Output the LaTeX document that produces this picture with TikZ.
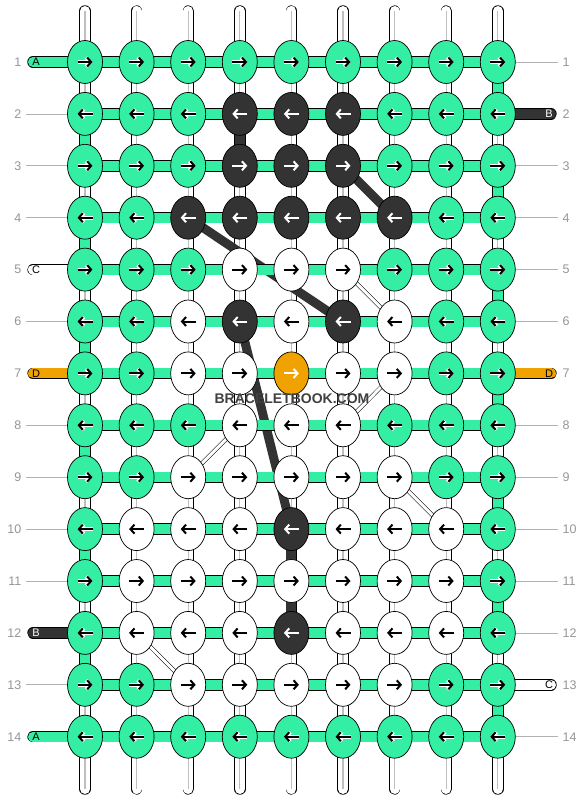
\documentclass[tikz,border=0pt]{standalone}
\usepackage{fontspec}
\setmainfont{Liberation Sans}
\usetikzlibrary{shapes.geometric,arrows.meta}
\definecolor{knotgreen}{RGB}{51,238,163}
\definecolor{knotdark}{RGB}{51,51,51}
\definecolor{knotorange}{RGB}{240,162,0}
\definecolor{rowgray}{RGB}{150,150,150}
\pgfdeclarelayer{strands}
\pgfdeclarelayer{diag}
\pgfdeclarelayer{bars}
\pgfsetlayers{strands,diag,bars,main}
\begin{document}
\begin{tikzpicture}[x=1pt,y=-1pt]
\tikzstyle{knot}=[draw, ellipse, line width=0.7pt, minimum width=35pt, minimum height=43pt, inner sep=0pt]
\tikzstyle{knot-g}=[knot, fill=knotgreen]
\tikzstyle{knot-d}=[knot, fill=knotdark]
\tikzstyle{knot-w}=[knot, fill=white]
\tikzstyle{knot-o}=[knot, fill=knotorange]
\tikzstyle{arrow}=[line width=2pt, -{Straight Barb[length=4pt,width=9pt]}]
\tikzstyle{arrow-g}=[arrow, black]
\tikzstyle{arrow-w}=[arrow, black]
\tikzstyle{arrow-d}=[arrow, white]
\tikzstyle{arrow-o}=[arrow, white]
\tikzstyle{halo}=[line width=3.6pt, -{Straight Barb[length=4pt,width=9pt]}]
\tikzstyle{halo-g}=[halo, white]
\tikzstyle{halo-w}=[halo, white]
\tikzstyle{halo-d}=[halo, knotdark]
\tikzstyle{halo-o}=[halo, knotorange]
\tikzstyle{vstrand}=[draw=black, double=white, double distance=10pt, line width=0.7pt, line cap=round]
\tikzstyle{vcore}=[draw=black!25, line width=1.2pt]
\tikzstyle{vseg}=[draw=black, double distance=10pt, line width=0.7pt]
\tikzstyle{hbar}=[draw=black, double distance=10pt, line width=0.7pt]
\tikzstyle{stub}=[draw=black, double distance=10pt, line width=0.7pt, line cap=round]
\tikzstyle{darkline}=[draw=knotdark, line width=9pt]
\tikzstyle{thinline}=[draw=black, double=white, double distance=3pt, line width=0.5pt]
\tikzstyle{rowline}=[draw=black!30, line width=0.8pt]
\tikzstyle{rownum}=[text=rowgray, font=\fontsize{12.5}{12.5}\selectfont, inner sep=0pt]
\tikzstyle{stublabel}=[font=\fontsize{11}{11}\selectfont, inner sep=0pt]

\useasboundingbox (0,0) rectangle (584,800);
\begin{pgfonlayer}{strands}
\fill[white] (0,0) rectangle (584,800);
\end{pgfonlayer}

% Define knots
\foreach \row/\cols in {1/{g,g,g,g,g,g,g,g,g}, 2/{g,g,g,d,d,d,g,g,g},
  3/{g,g,g,d,d,d,g,g,g}, 4/{g,g,d,d,d,d,d,g,g}, 5/{g,g,g,w,w,w,g,g,g},
  6/{g,g,w,d,w,d,w,g,g}, 7/{g,g,w,w,o,w,w,g,g}, 8/{g,g,g,w,w,w,g,g,g},
  9/{g,g,w,w,w,w,w,g,g}, 10/{g,w,w,w,d,w,w,w,g}, 11/{g,w,w,w,w,w,w,w,g},
  12/{g,w,w,w,d,w,w,w,g}, 13/{g,g,w,w,w,w,w,g,g}, 14/{g,g,g,g,g,g,g,g,g}}{
  \pgfmathsetmacro\xa{ifthenelse(isodd(\row),-7.5,7.5)}
  \pgfmathsetmacro\xb{ifthenelse(isodd(\row),7.5,-7.5)}
  \foreach \k [count=\c] in \cols {
    \node[knot-\k] (k\row-\c) at ({85+(\c-1)*51.6},{62+(\row-1)*51.9}) {};
    \draw[halo-\k] (k\row-\c.center) +(\xa,0) -- +(\xb,0);
    \draw[arrow-\k] (k\row-\c.center) +(\xa,0) -- +(\xb,0);
  }
}

% Draw vertical strands
\begin{pgfonlayer}{strands}
\foreach \c in {1,...,9}{
  \coordinate (top\c) at ({85+(\c-1)*51.6},11);
  \coordinate (bot\c) at ({85+(\c-1)*51.6},789);
  \draw[vstrand] (top\c) -- (bot\c);
  \draw[vcore] (top\c) -- (bot\c);
}
\foreach \r [evaluate=\r as \s using int(\r+1)] in {1,3,...,13}
  \draw[vseg, double=knotgreen] (k\r-9.center) -- (k\s-9.center);
\foreach \r [evaluate=\r as \s using int(\r+1)] in {2,4,...,12}
  \draw[vseg, double=knotgreen] (k\r-1.center) -- (k\s-1.center);
\draw[vseg, double=knotdark] (k2-4.center) -- (k3-4.center);
\draw[vseg, double=knotdark] (k10-5.center) -- (k11-5.center);
\draw[vseg, double=knotdark] (k11-5.center) -- (k12-5.center);
\end{pgfonlayer}

% Diagonal strands
\begin{pgfonlayer}{diag}
\draw[darkline] (k3-6.center) -- (k4-7.center);
\draw[darkline] (k4-3.center) -- (k6-6.center);
\draw[darkline] (k6-4.center) -- (k10-5.center);
\draw[thinline] (k5-6.center) -- (k6-7.center);
\draw[thinline] (k7-7.center) -- (k8-6.center);
\draw[thinline] (k8-4.center) -- (k9-3.center);
\draw[thinline] (k9-7.center) -- (k10-8.center);
\draw[thinline] (k12-2.center) -- (k13-3.center);
\end{pgfonlayer}

% Horizontal bars
\begin{pgfonlayer}{bars}
\foreach \r in {1,...,14}{
  \foreach \c in {1,...,8}{
    \pgfmathtruncatemacro\cn{\c+1}
    \draw[hbar, double=knotgreen] (k\r-\c.center) -- (k\r-\cn.center);
  }
}

% Start and end strands
\foreach \r/\colr/\lab/\txt in {1/knotgreen/A/black, 5/white/C/black,
  7/knotorange/D/black, 12/knotdark/B/white, 14/knotgreen/A/black}{
  \coordinate (left\r) at (33,{62+(\r-1)*51.9});
  \draw[stub, double=\colr] (left\r) -- (k\r-1.center);
  \node[stublabel, text=\txt] (labl\r) at (36,{62+(\r-1)*51.9}) {\lab};
}
\foreach \r/\colr/\lab/\txt in {2/knotdark/B/white, 7/knotorange/D/black,
  13/white/C/black}{
  \coordinate (right\r) at (551,{62+(\r-1)*51.9});
  \draw[stub, double=\colr] (k\r-9.center) -- (right\r);
  \node[stublabel, text=\txt] (labr\r) at (549,{62+(\r-1)*51.9}) {\lab};
}

% Row guides
\foreach \r in {2,3,4,6,8,9,10,11,13}{
  \coordinate (gl\r) at (26,{62+(\r-1)*51.9});
  \draw[rowline] (gl\r) -- (k\r-1);
}
\foreach \r in {1,3,4,5,6,8,9,10,11,12,14}{
  \coordinate (gr\r) at (558,{62+(\r-1)*51.9});
  \draw[rowline] (k\r-9) -- (gr\r);
}
\end{pgfonlayer}

% Row numbers
\foreach \r in {1,...,14}{
  \node[rownum, anchor=east] (numl\r) at (21.5,{62+(\r-1)*51.9}) {\r};
  \node[rownum, anchor=west] (numr\r) at (562.5,{62+(\r-1)*51.9}) {\r};
}

\node[text=black!75, font=\bfseries\fontsize{14}{14}\selectfont, inner sep=0pt] (mark) at (292,399) {BRACELETBOOK.COM};
\end{tikzpicture}
\end{document}
